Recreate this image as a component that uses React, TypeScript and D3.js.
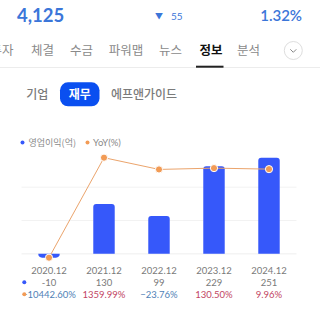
import * as d3 from "d3";

const periods = ["2020.12", "2021.12", "2022.12", "2023.12", "2024.12"];
const opProfit = [-10, 130, 99, 229, 251];
const yoy = [-10442.6, 1359.99, -23.76, 130.5, 9.96];
const gridValues = [0, 87, 174];

const tabs = ["투자", "체결", "수금", "파워맵", "뉴스", "정보", "분석"];
const tabCenters = [2, 42.5, 81.5, 126, 170.5, 211, 248.5];
const subTabs = ["기업", "재무", "에프앤가이드"];

const BAR = "#3658fa";
const ORANGE = "#f29b55";
const FONT = "Lato, 'Noto Sans CJK KR', sans-serif";
const KFONT = "'Noto Sans CJK KR', sans-serif";

const fmtPct = (v: number) => d3.format(".2f")(v) + "%";

function barPath(x: number, w: number, y0: number, y1: number, r: number) {
  const h = Math.abs(y1 - y0);
  const rr = Math.min(r, h, w / 2);
  if (y1 < y0) {
    // positive bar, round top
    return `M${x},${y0}V${y1 + rr}Q${x},${y1} ${x + rr},${y1}H${x + w - rr}Q${x + w},${y1} ${x + w},${y1 + rr}V${y0}Z`;
  }
  return `M${x},${y0}V${y1 - rr}Q${x},${y1} ${x + rr},${y1}H${x + w - rr}Q${x + w},${y1} ${x + w},${y1 - rr}V${y0}Z`;
}

export default function App() {
  const width = 320;
  const height = 320;

  const x = d3
    .scaleBand<string>()
    .domain(periods)
    .range([21.5, 296.5])
    .paddingInner(0.61)
    .paddingOuter(0.305);

  const yBar = d3
    .scaleLinear()
    .domain([d3.min(opProfit)!, d3.max(opProfit)!])
    .range([257.7, 157.7]);

  const yLine = d3
    .scaleLinear()
    .domain([d3.min(yoy)!, d3.max(yoy)!])
    .range([257.7, 157.7]);

  const cx = (p: string) => x(p)! + x.bandwidth() / 2;

  const line = d3
    .line<number>()
    .x((_, i) => cx(periods[i]))
    .y((d) => yLine(d));

  return (
    <svg
      width={width}
      height={height}
      style={{ position: "absolute", left: 0, top: 0, background: "#fff" }}
    >
      {/* price header */}
      <text x={17} y={21.5} fontFamily={FONT} fontWeight={700} fontSize={18.5} fill="#3b76d9">
        4,125
      </text>
      <text x={155} y={19} fontFamily={FONT} fontSize={8} fill="#3b76d9">
        ▼
      </text>
      <text x={171} y={19.5} fontFamily={FONT} fontSize={10} fill="#3b76d9">
        55
      </text>
      <text x={302} y={20.5} textAnchor="end" fontFamily={FONT} fontWeight={600} fontSize={15} fill="#3b76d9">
        1.32%
      </text>

      {/* tabs */}
      {tabs.map((t, i) => (
        <text
          key={t}
          x={tabCenters[i]}
          y={55}
          textAnchor="middle"
          fontFamily={KFONT}
          fontSize={12.5}
          fontWeight={t === "정보" ? 700 : 400}
          fill={t === "정보" ? "#111" : "#8a8a8a"}
        >
          {t}
        </text>
      ))}
      <line x1={0} x2={320} y1={67.5} y2={67.5} stroke="#ececec" />
      <rect x={196} y={65.7} width={27.5} height={2} fill="#222" />
      <circle cx={293.3} cy={50.5} r={9} fill="#fff" stroke="#dedede" />
      <path d="M290.3,49.3 L293.3,52.3 L296.3,49.3" fill="none" stroke="#888" strokeWidth={1} />

      {/* sub tabs */}
      <rect x={60} y={82.3} width={39.5} height={24} rx={8} fill="#0a4ff0" />
      <text x={37.2} y={99} textAnchor="middle" fontFamily={KFONT} fontSize={12} fontWeight={500} fill="#7b7b7b">
        {subTabs[0]}
      </text>
      <text x={79.8} y={99} textAnchor="middle" fontFamily={KFONT} fontSize={12} fontWeight={700} fill="#fff">
        {subTabs[1]}
      </text>
      <text x={144} y={99} textAnchor="middle" fontFamily={KFONT} fontSize={12} fontWeight={500} fill="#7b7b7b">
        {subTabs[2]}
      </text>

      {/* legend */}
      <circle cx={22.5} cy={142.5} r={2} fill={BAR} />
      <text x={28.5} y={145.8} fontFamily={KFONT} fontSize={9} fill="#8a8a8a">
        영업이익(억)
      </text>
      <circle cx={87.5} cy={142.5} r={2} fill={ORANGE} />
      <text x={93} y={145.8} fontFamily={FONT} fontSize={9.5} fill="#8a8a8a">
        YoY(%)
      </text>

      {/* grid */}
      {gridValues.map((g) => (
        <line
          key={g}
          x1={21.5}
          x2={296.5}
          y1={yBar(g)}
          y2={yBar(g)}
          stroke={g === 0 ? "#eeeeee" : "#f2f2f2"}
          strokeWidth={1}
        />
      ))}

      {/* bars */}
      {opProfit.map((v, i) => (
        <path
          key={periods[i]}
          d={barPath(x(periods[i])!, x.bandwidth(), yBar(0), yBar(v), v < 0 ? 5 : 3)}
          fill={BAR}
        />
      ))}

      {/* yoy line */}
      <path d={line(yoy) || ""} fill="none" stroke="#eba46c" strokeWidth={1} />
      {yoy.map((v, i) => (
        <circle
          key={periods[i]}
          cx={cx(periods[i])}
          cy={yLine(v)}
          r={3.6}
          fill={ORANGE}
          stroke="#fff"
          strokeWidth={1}
        />
      ))}

      {/* table below */}
      {periods.map((p, i) => (
        <g key={p} fontFamily={FONT} fontSize={9.5} textAnchor="middle">
          <text x={cx(p)} y={273.5} fill="#7a7a7a">
            {p}
          </text>
          <text x={cx(p)} y={285.5} fill="#7a7a7a">
            {opProfit[i]}
          </text>
          <text x={cx(p)} y={297.5} fill={yoy[i] < 0 ? "#4f7fb6" : "#c24563"}>
            {fmtPct(yoy[i])}
          </text>
        </g>
      ))}
      <circle cx={24.3} cy={282.3} r={2} fill={BAR} />
      <circle cx={24.3} cy={294.3} r={2} fill={ORANGE} />
    </svg>
  );
}
